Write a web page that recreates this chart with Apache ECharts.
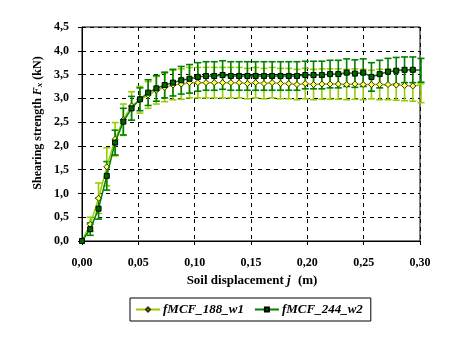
<!DOCTYPE html>
<html>
<head>
<meta charset="utf-8">
<script src="https://cdn.jsdelivr.net/npm/echarts@6/dist/echarts.min.js"></script>
<style>html,body{margin:0;padding:0;background:#fff;}#c{width:456px;height:363px;}</style>
</head>
<body>
<div id="c"></div>
<script>
// Soil displacement j (m)
var xValues = [0, 0.0073, 0.0147, 0.022, 0.0294, 0.0367, 0.044, 0.0514, 0.0587, 0.066,
  0.0734, 0.0807, 0.0881, 0.0954, 0.1028, 0.1101, 0.1174, 0.1248, 0.1321, 0.1395,
  0.1468, 0.1541, 0.1615, 0.1688, 0.1762, 0.1835, 0.1908, 0.1982, 0.2055, 0.2129,
  0.2202, 0.2275, 0.2349, 0.2422, 0.2496, 0.2569, 0.2642, 0.2716, 0.2789, 0.2863,
  0.2936, 0.3009];
// fMCF_188_w1
var s1Name = 'fMCF_188_w1';
var s1Values = [0, 0.35, 0.90, 1.56, 2.14, 2.55, 2.84, 2.97, 3.07, 3.17,
  3.23, 3.28, 3.30, 3.33, 3.33, 3.33, 3.33, 3.33, 3.33, 3.33,
  3.31, 3.33, 3.31, 3.33, 3.31, 3.31, 3.29, 3.31, 3.29, 3.30,
  3.30, 3.30, 3.29, 3.30, 3.29, 3.29, 3.29, 3.29, 3.28, 3.27,
  3.26, 3.28];
var s1ErrPlus = [0, 0.15, 0.32, 0.40, 0.35, 0.33, 0.30, 0.28, 0.28, 0.29,
  0.30, 0.31, 0.32, 0.32, 0.32, 0.32, 0.32, 0.32, 0.32, 0.32,
  0.32, 0.32, 0.32, 0.32, 0.32, 0.32, 0.32, 0.32, 0.32, 0.32,
  0.32, 0.32, 0.32, 0.32, 0.32, 0.30, 0.32, 0.32, 0.32, 0.32,
  0.32, 0.03];
var s1ErrMinus = [0, 0.15, 0.32, 0.40, 0.35, 0.33, 0.30, 0.28, 0.28, 0.29,
  0.30, 0.31, 0.32, 0.32, 0.32, 0.32, 0.32, 0.32, 0.32, 0.32,
  0.32, 0.32, 0.32, 0.32, 0.32, 0.32, 0.32, 0.32, 0.32, 0.32,
  0.32, 0.32, 0.32, 0.32, 0.32, 0.30, 0.32, 0.32, 0.32, 0.32,
  0.32, 0.37];
// fMCF_244_w2
var s2Name = 'fMCF_244_w2';
var s2Values = [0, 0.25, 0.68, 1.37, 2.07, 2.51, 2.79, 2.98, 3.12, 3.21,
  3.28, 3.33, 3.38, 3.41, 3.45, 3.47, 3.47, 3.49, 3.47, 3.47,
  3.47, 3.47, 3.47, 3.47, 3.47, 3.47, 3.47, 3.49, 3.49, 3.49,
  3.51, 3.51, 3.54, 3.52, 3.54, 3.45, 3.51, 3.56, 3.58, 3.60,
  3.60, 3.59];
var s2Err = [0, 0.13, 0.22, 0.30, 0.26, 0.28, 0.25, 0.24, 0.27, 0.27,
  0.27, 0.28, 0.29, 0.30, 0.30, 0.30, 0.30, 0.30, 0.30, 0.30,
  0.30, 0.30, 0.30, 0.30, 0.30, 0.30, 0.30, 0.29, 0.29, 0.29,
  0.29, 0.29, 0.29, 0.29, 0.29, 0.30, 0.29, 0.28, 0.28, 0.27,
  0.27, 0.25];
var xTicks = [0, 0.05, 0.10, 0.15, 0.20, 0.25, 0.30];
var yTicks = [0, 0.5, 1.0, 1.5, 2.0, 2.5, 3.0, 3.5, 4.0, 4.5];

var LIGHT = '#99CC00', DARK = '#008000';
var FONT = '"Liberation Serif", "Times New Roman", serif';

function pairs(vals) { return xValues.map(function (x, i) { return [x, vals[i]]; }); }
function errData(vals, minus, plus) {
  return xValues.map(function (x, i) { return [x, vals[i] - minus[i], vals[i] + plus[i]]; });
}
function errRender(color) {
  return function (params, api) {
    var x = api.value(0), lo = api.value(1), hi = api.value(2);
    if (hi - lo < 1e-6) return null;
    var a = api.coord([x, hi]), b = api.coord([x, lo]);
    var w = 3.5;
    var st = { stroke: color, lineWidth: 1.6, fill: null };
    return {
      type: 'group',
      children: [
        { type: 'line', shape: { x1: a[0], y1: a[1], x2: b[0], y2: b[1] }, style: st },
        { type: 'line', shape: { x1: a[0] - w, y1: a[1], x2: a[0] + w, y2: a[1] }, style: st },
        { type: 'line', shape: { x1: b[0] - w, y1: b[1], x2: b[0] + w, y2: b[1] }, style: st }
      ]
    };
  };
}

var chart = echarts.init(document.getElementById('c'), null, { renderer: 'canvas' });
chart.setOption({
  animation: false,
  backgroundColor: '#fff',
  grid: { left: 82, right: 36, top: 27, bottom: 122, show: true, borderColor: '#000', borderWidth: 1, backgroundColor: 'transparent' },
  xAxis: {
    type: 'value', min: xTicks[0], max: xTicks[xTicks.length - 1], interval: 0.05,
    axisLine: { lineStyle: { color: '#000', width: 1 } },
    axisTick: { show: true, inside: false, length: 4, lineStyle: { color: '#000' } },
    splitLine: { show: true, lineStyle: { color: '#000', type: [4, 4], width: 1 } },
    axisLabel: {
      color: '#000', fontFamily: FONT, fontWeight: 'bold', fontSize: 12, margin: 16,
      formatter: function (v) { return v.toFixed(2).replace('.', ','); }
    }
  },
  yAxis: {
    type: 'value', min: yTicks[0], max: yTicks[yTicks.length - 1], interval: 0.5,
    axisLine: { show: true, lineStyle: { color: '#000', width: 1 } },
    axisTick: { show: true, inside: false, length: 4, lineStyle: { color: '#000' } },
    splitLine: { show: true, lineStyle: { color: '#000', type: [4, 4], width: 1 } },
    axisLabel: {
      color: '#000', fontFamily: FONT, fontWeight: 'bold', fontSize: 12, margin: 13,
      formatter: function (v) { return v.toFixed(1).replace('.', ','); }
    }
  },
  legend: {
    left: 130, top: 298, orient: 'horizontal',
    borderColor: '#000', borderWidth: 1, padding: [5, 8, 5, 5],
    itemWidth: 24, itemHeight: 5, itemGap: 10,
    textStyle: { color: '#000', fontFamily: FONT, fontWeight: 'bold', fontStyle: 'italic', fontSize: 13, padding: [0, 0, 0, -2] },
    data: [s1Name, s2Name]
  },
  graphic: [
    {
      type: 'text', x: 38, y: 123, rotation: Math.PI / 2,
      style: {
        text: '{b|Shearing strength }{i|F}{s|x}{b| (kN)}',
        align: 'center', verticalAlign: 'middle',
        rich: {
          b: { fontFamily: FONT, fontWeight: 'bold', fontSize: 12, fill: '#000' },
          i: { fontFamily: FONT, fontWeight: 'bold', fontStyle: 'italic', fontSize: 12, fill: '#000' },
          s: { fontFamily: FONT, fontWeight: 'bold', fontStyle: 'italic', fontSize: 9, fill: '#000', padding: [4, 0, 0, 0] }
        }
      }
    },
    {
      type: 'text', x: 252, y: 281,
      style: {
        text: '{b|Soil displacement }{i|j}{b| (m)}',
        align: 'center', verticalAlign: 'middle',
        rich: {
          b: { fontFamily: FONT, fontWeight: 'bold', fontSize: 13, fill: '#000' },
          i: { fontFamily: FONT, fontWeight: 'bold', fontStyle: 'italic', fontSize: 13, fill: '#000', padding: [0, 4, 0, 0] }
        }
      }
    }
  ],
  series: [
    {
      type: 'custom', name: 'err1', clip: false, silent: true, z: 2,
      renderItem: errRender(LIGHT), encode: { x: 0, y: [1, 2] },
      data: errData(s1Values, s1ErrMinus, s1ErrPlus)
    },
    {
      type: 'custom', name: 'err2', clip: false, silent: true, z: 3,
      renderItem: errRender(DARK), encode: { x: 0, y: [1, 2] },
      data: errData(s2Values, s2Err, s2Err)
    },
    {
      type: 'line', name: s1Name, clip: true, z: 4,
      data: pairs(s1Values),
      lineStyle: { color: LIGHT, width: 1.5 },
      itemStyle: { color: '#FFFF66', borderColor: '#333300', borderWidth: 1 },
      symbol: 'diamond', symbolSize: 6, showAllSymbol: true
    },
    {
      type: 'line', name: s2Name, clip: true, z: 5,
      data: pairs(s2Values),
      lineStyle: { color: DARK, width: 1.5 },
      itemStyle: { color: '#006400', borderColor: '#000', borderWidth: 1 },
      symbol: 'rect', symbolSize: 5, showAllSymbol: true
    }
  ]
});
</script>
</body>
</html>
